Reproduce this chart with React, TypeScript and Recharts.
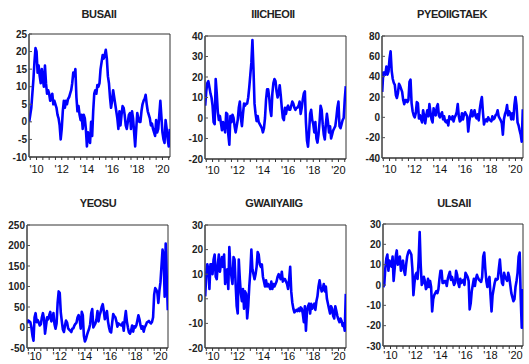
import React from 'react'
import { Line, LineChart, ReferenceArea, XAxis, YAxis } from 'recharts'

// monthly observations, June 2009 .. mid 2020
const busan = [
  0, 2, 4, 8, 12, 17, 21, 20, 14, 16, 13, 11, 15, 12, 10, 16, 11, 8, 9, 8,
  6, 7, 8, 5, 6, 5, 4, 2, 1, -1, -5, -2, 3, 6, 4, 6, 5, 6.5, 7, 8,
  9, 11, 14, 13, 15, 7, 3, 4.5, 2, 0.5, 2, -2, 2, 1, -2, -7, -3, -5, -6, 0,
  -4, 3, 8, 9, 8, 10.5, 10, 11, 15, 17, 19, 18, 19, 20.5, 18, 13, 11, 7, 4, 6,
  9, 7, 5, 3, 1, -2, 3, -1, 2, 4.5, 4, 2, -1, -2, 0, 2, 2.5, -2, 3, 1,
  -3, -7, -2, 2.5, 1, 0, 0, 3, 5, 6, 6.5, 7.7, 5, 3, 2, 1, -1, -0.5, -2, -3,
  -4, 0.5, -3, -2, 2, 6, 1.5, -3, -5, -6, 0.5, -2, -5, -7, -2,
]
const incheon = [
  6, 13, 17, 18, 15, 12, 10, 6, -2, -3, 19, 12, 3, -1, 1, -2.5, -6, -2, -4, -7,
  2.5, 2, -8, -13, 1, -2, 1.6, 0, -4, -7, -4, -1, 5, 8, 0, -4, 2, 7, 6, 7,
  7, 10, 15, 21, 27, 38, 24, 7, 2, -1.5, 1, -2, -3, -4, -5, -7, -5, 0, 9, 14,
  14, 10, 4, 1, 12, 17, 19, 18, 13, 10, 12, 16, 11, 5, 0, -1, 5, 2, 5, 6,
  4, 4, 6, 8, 7, 5, 4, 5, 5, 6, 8, 2, 5, 9, 12, 13, -2, -11, -14, -7,
  2, 4, -1, -3, -7, -2, -10, -12, -8, -2, 6, 4, -3, -8, -10.5, -3, 2, -2, -7, -4,
  -10, -8, -6, -5, -4, 0, 5, 8, -4, -5, -3, -1, 0, 9, 15.5,
]
const pyeongtaek = [
  25, 44, 44, 42, 50, 42, 45, 58, 65, 46, 38, 34, 32, 22, 19, 24, 33, 31, 28, 25,
  17, 13, 17, 17, 15, 17, 35, 37, 14, 6, 2, 0, 4, 15, 14, -1, 2, -2, -5, 7,
  1, -6, 2, 7, 1, 13, 5, -2, -5, 9, 4, 2, 10, 13, 2, 0, 3, 5, -2, 1,
  -4, -5, -3, -8, 1, -1, -2, 1, -4, 0, 2, 5, 13, 1, -4, -3, 4, -2, 3, 5,
  3, 1, -14, -4, 2, 7, 1, 3, 7, 1, -1, 3, -3, 8, 15, 20, 5, -7, -3, -2,
  -4, 0, -2, -3, -4, 1, -2, -1, 2, 3, 7, 1, -1, -3, -6, -17, -2, 3, 6, 12,
  2, 6, 4, -2, 4, -2, 12, 20, 12, -5, -8, -13, -17, -24, 8,
]
const yeosu = [
  10, 17, 15, 13, 0, -20, -32, 25, 35, 13, 18, 12, 5, 8, 25, 35, 21, -15, 5, 25,
  20, 30, 38, 15, 20, 35, 8, -3, 10, 60, 88, 84, 37, 15, -5, -11, 5, 17, 12, -2,
  -5, -8, -11, -3, -2, 5, 9, 12, 25, 30, 20, -3, 38, 30, -20, -34, -28, -18, -10, -3,
  8, 35, 45, 0, 5, 10, 20, 40, 15, 30, 38, 50, 57, 40, 20, 30, 40, 15, 0, -10,
  -12, 12, 33, 28, 25, 15, 2, 10, 8, 6, 5, 12, -8, 20, 40, 15, 0, -12, -15, -8,
  5, -10, 3, 0, 5, 17, 30, 20, 5, -3, 3, -10, 0, 5, 12, 14, 16, 12, 10, 14,
  25, 80, 96, 92, 86, 60, 90, 110, 150, 190, 175, 75, 205, 120, 42,
]
const gwangyang = [
  1, 10, 14, 12, 4, 14, 14, 10, 16, 18, 9, 8, 14, 18, 11, 14, 17, 13, 18, 6,
  10, 12, 4, 21, 13, 9, 6, 17, 16, 6, -3, -6, 16, 8, 2, -1, 4, -4, 3, 2,
  -8, -3, 5, 11, 20, 12, 10, 8, 10, 13, 19, 18, 14, 13, 14, 9, 7, 5, 7.5, 5,
  6, 5, 4, 7, 4, 6, 5, 6, 7, 9, 10, 9, 8, 11, 7, 8, 8, 7, 6, 4,
  8, 13, 3, -1.5, -4, -5.5, -5, -4.5, -5, -4, -5, -3.5, -4, -6, -9.5, -3, -13, -5, -3, -2,
  -6, -2, -4, -3, -2, -4.5, -1, 1, 5, 7.5, 5, 3, 4, 6, 3, 5, 0, -2, -4, -6,
  -3, -4, -7, -8, -3, -5, -7, -8.5, -9.5, -8, -9, -11, -10, -13, 2,
]
const ulsan = [
  -1, 0, 8, 13, 15, 7, 12, 10, 9, 14, 2, 8, 14, 17, 10, 12, 14, 7, 11, 12,
  7, 5, 10, 14, 16, 17, 16, 15, 8, -5, 1, 5, 6, 3, 12, 26, 10, 0, 1, 4,
  2, -2, -1, 3, -1, 2, -1, -13, -7, -5, -4, -3, -4, -2, 3, 7, 7, 1, 1, 2,
  2, -0.5, 3, 5, 6.5, 2.5, 4, 2, 0, 1, 7, 5, 1, -1, 3, 1, 2, 2.5, 0, 6,
  5, 4, 2, -12, -9, -3, 0, 3, -0.5, 3, 5, 3.5, 2.5, 2, 1.5, 4, 14, 16, 8, 2,
  -1, 2.5, 4, -5, -13, -5, -2, 1, 3, 2.5, 3, 8, 12.5, 6, 1, 0, 6, 4, 3, 2,
  6, 4, 0, -4, -6, -8, -7, -1, 2, 6, 14, 16, -6, -21, -2,
]

const START = 2009 + 5 / 12
const X_DOMAIN: [number, number] = [2009.4, 2020.6]
const xTicks: number[] = []
for (let t = 2009.5; t <= 2020.5; t += 0.5) xTicks.push(t)

const FONT = '"Liberation Sans", Arial, sans-serif'
const YW = 30
const TOP = 8

type PanelProps = {
  title: string
  values: number[]
  yDomain: [number, number]
  yTicks: number[]
  x: number
  y: number
  w: number
  h: number
  titleX: number
  titleY: number
  labelGap: number
}

const Panel: React.FC<PanelProps> = ({ title, values, yDomain, yTicks, x, y, w, h, titleX, titleY, labelGap }) => {
  const rows = values.map((v, i) => ({ t: START + i / 12, v }))
  const axisY = TOP + h
  const XTick = (props: any) => {
    const yr = props.payload.value
    if (!Number.isInteger(yr) || yr % 2 !== 0) return <g />
    return (
      <text x={props.x} y={axisY + labelGap} dy="0.71em" textAnchor="middle" fontSize={11} fill="#111" fontFamily={FONT}>
        {"'" + String(yr).slice(2)}
      </text>
    )
  }
  const YTick = (props: any) => (
    <g>
      <line x1={YW} x2={YW + 3} y1={props.y} y2={props.y} stroke="#555" />
      <text x={YW - 2} y={props.y} dy={3.5} textAnchor="end" fontSize={10} fontWeight="bold" fill="#222" fontFamily={FONT}>
        {props.payload.value}
      </text>
    </g>
  )
  return (
    <>
      <div
        style={{
          position: 'absolute',
          left: titleX - 60,
          top: titleY - 7,
          width: 120,
          textAlign: 'center',
          fontFamily: FONT,
          fontWeight: 'bold',
          fontSize: 11,
          lineHeight: '14px',
          letterSpacing: -0.4,
          color: '#222',
        }}
      >
        {title}
      </div>
      <div style={{ position: 'absolute', left: x - YW, top: y - TOP }}>
        <LineChart width={YW + w + 1} height={h + TOP + 23} data={rows} margin={{ top: TOP, right: 1, bottom: 0, left: 0 }}>
          <XAxis
            dataKey="t"
            type="number"
            domain={X_DOMAIN}
            ticks={xTicks}
            interval={0}
            allowDataOverflow
            height={23}
            tickSize={3}
            stroke="#333"
            tick={XTick}
          />
          <YAxis
            type="number"
            domain={yDomain}
            ticks={yTicks}
            interval={0}
            allowDataOverflow
            width={YW}
            tickLine={false}
            tickSize={0}
            stroke="#444"
            tick={YTick}
          />
          <ReferenceArea x1={X_DOMAIN[0]} x2={X_DOMAIN[1]} y1={yDomain[0]} y2={yDomain[1]} fill="none" stroke="#333" strokeOpacity={1} />
          <Line type="linear" dataKey="v" stroke="#0000ff" strokeWidth={2.6} strokeLinejoin="round" dot={false} isAnimationActive={false} />
        </LineChart>
      </div>
    </>
  )
}

export default function App() {
  return (
    <div style={{ position: 'absolute', left: 0, top: 0, width: 529, height: 364, background: '#fff', overflow: 'hidden' }}>
      <Panel title="BUSAII" values={busan} yDomain={[-10, 25]} yTicks={[-10, -5, 0, 5, 10, 15, 20, 25]}
        x={29} y={34} w={141} h={123} titleX={99} titleY={14} labelGap={8} />
      <Panel title="IIICHEOII" values={incheon} yDomain={[-20, 40]} yTicks={[-20, -10, 0, 10, 20, 30, 40]}
        x={205} y={36} w={141} h={123} titleX={273} titleY={14} labelGap={7} />
      <Panel title="PYEOIIGTAEK" values={pyeongtaek} yDomain={[-40, 80]} yTicks={[-40, -20, 0, 20, 40, 60, 80]}
        x={382} y={36} w={141} h={122} titleX={452} titleY={14} labelGap={7} />
      <Panel title="YEOSU" values={yeosu} yDomain={[-50, 250]} yTicks={[-50, 0, 50, 100, 150, 200, 250]}
        x={27} y={225} w={141} h={123} titleX={98} titleY={203} labelGap={4} />
      <Panel title="GWAIIYAIIG" values={gwangyang} yDomain={[-20, 30]} yTicks={[-20, -10, 0, 10, 20, 30]}
        x={205} y={225} w={141} h={123} titleX={274} titleY={203} labelGap={4} />
      <Panel title="ULSAII" values={ulsan} yDomain={[-30, 30]} yTicks={[-30, -20, -10, 0, 10, 20, 30]}
        x={383} y={224} w={140} h={122} titleX={454} titleY={203} labelGap={5} />
    </div>
  )
}
